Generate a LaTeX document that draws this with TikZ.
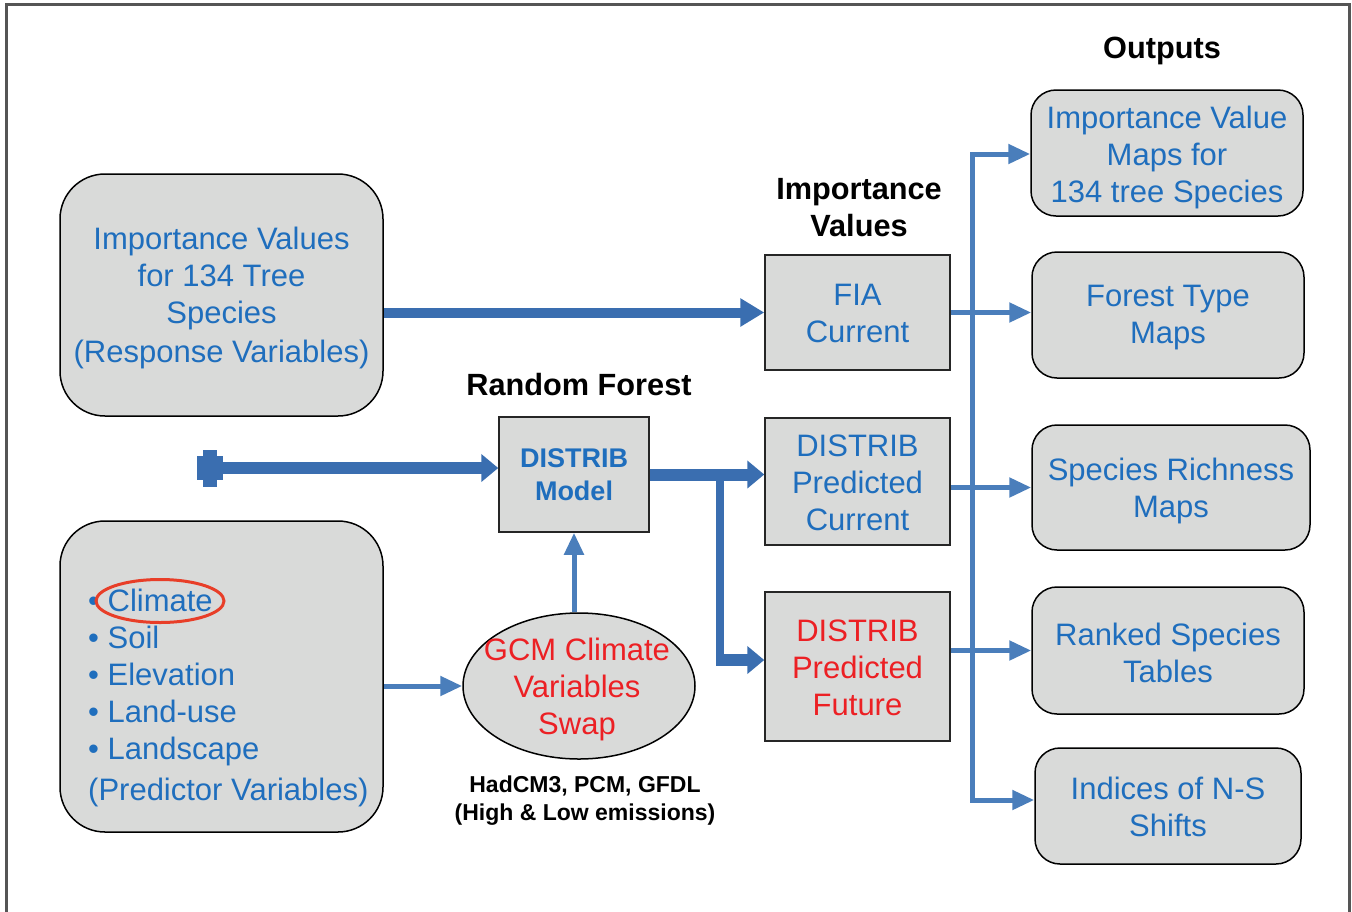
\documentclass[tikz,border=0pt]{standalone}
\usepackage{fontspec}
\setmainfont{Liberation Sans}
\usetikzlibrary{arrows.meta,shapes.geometric}
\definecolor{boxfill}{RGB}{217,218,217}
\definecolor{txtblue}{RGB}{31,110,189}
\definecolor{arrblue}{RGB}{74,126,187}
\definecolor{thkblue}{RGB}{58,110,176}
\definecolor{txtred}{RGB}{236,32,36}
\definecolor{ringred}{RGB}{232,62,40}
\definecolor{framegray}{RGB}{85,85,85}
\tikzset{
  bigfont/.style={font=\fontsize{31}{37}\selectfont},
  roundbox/.style={draw=black,line width=1.5pt,fill=boxfill,rounded corners=45pt,inner sep=0pt,align=center,bigfont,text=txtblue},
  outbox/.style={draw=black,line width=1.5pt,fill=boxfill,rounded corners=25pt,inner sep=0pt,align=center,bigfont,text=txtblue},
  sqbox/.style={draw=black!85,line width=1.5pt,fill=boxfill,inner sep=0pt,align=center,bigfont,text=txtblue},
  title/.style={font=\fontsize{30.7}{37}\selectfont\bfseries,align=center,text=black},
  thinarrow/.style={draw=arrblue,line width=5pt,-{Triangle[width=19pt,length=22pt]}},
  thickarrow/.style={draw=thkblue,line width=12pt,-{Triangle[width=27pt,length=17pt]}},
}
\begin{document}
\begin{tikzpicture}[x=1pt,y=-1pt]
\useasboundingbox (0,0) rectangle (1352,911);
% frame
\draw[framegray,line width=3pt] (6,915) -- (6,4) -- (1349,4) -- (1349,915);

% left boxes
\node[roundbox,minimum width=323pt,minimum height=242pt] (A) at (221.5,295) {};
\node[bigfont,text=txtblue,align=center,inner sep=0pt] (Atext) at (221.5,298)
  {Importance Values\\for 134 Tree\\Species\\[2pt](Response Variables)};
\node[roundbox,minimum width=323pt,minimum height=311pt] (B) at (221.5,676.5) {};
\node[bigfont,text=txtblue,align=left,anchor=west,inner sep=0pt] (predtext) at (88,698)
  {• Climate\\• Soil\\• Elevation\\• Land-use\\• Landscape\\[4pt](Predictor Variables)};
\node[ellipse,draw=ringred,line width=3pt,minimum width=128pt,minimum height=43pt,inner sep=0pt] (ring) at (160,601) {};

% middle
\node[title] (rftitle) at (579,385) {Random Forest};
\node[sqbox,minimum width=150pt,minimum height=115pt,font=\fontsize{27}{33}\selectfont\bfseries] (model) at (574,474.5) {DISTRIB\\Model};
\node[ellipse,draw=black,line width=1.5pt,fill=boxfill,minimum width=232pt,minimum height=146pt,inner sep=0pt] (gcm) at (579,686) {};
\node[bigfont,text=txtred,align=center,inner sep=0pt] (gcmtext) at (577,689)
  {GCM Climate\\Variables\\Swap};
\node[font=\fontsize{23}{28}\selectfont\bfseries,align=center] (gcmnote) at (585,801)
  {HadCM3, PCM, GFDL\\(High \& Low emissions)};

% importance values column
\node[title] (ivtitle) at (859,208) {Importance\\Values};
\node[sqbox,minimum width=185pt,minimum height=115pt] (fia) at (857.5,312.5) {};
\node[bigfont,text=txtblue,align=center,inner sep=0pt] (fiatext) at (857.5,313) {FIA\\Current};
\node[sqbox,minimum width=185pt,minimum height=127pt] (pcur) at (857.5,481.5) {};
\node[bigfont,text=txtblue,align=center,inner sep=0pt] (pcurtext) at (857.5,482.5) {DISTRIB\\Predicted\\Current};
\node[sqbox,minimum width=185pt,minimum height=149pt] (pfut) at (857.5,666.5) {};
\node[bigfont,text=txtred,align=center,inner sep=0pt] (pfuttext) at (857.5,667.5) {DISTRIB\\Predicted\\Future};

% outputs
\node[title] (outtitle) at (1162,51) {Outputs};
\node[outbox,minimum width=272pt,minimum height=126pt] (o1) at (1167,153) {};
\node[bigfont,text=txtblue,align=center,inner sep=0pt] (o1text) at (1167,157) {Importance Value\\Maps for\\134 tree Species};
\node[outbox,minimum width=272pt,minimum height=126pt] (o2) at (1168,315) {};
\node[bigfont,text=txtblue,align=center,inner sep=0pt] (o2text) at (1168,318) {Forest Type\\Maps};
\node[outbox,minimum width=278pt,minimum height=125pt] (o3) at (1171,487.5) {};
\node[bigfont,text=txtblue,align=center,inner sep=0pt] (o3text) at (1171,491) {Species Richness\\Maps};
\node[outbox,minimum width=272pt,minimum height=127pt] (o4) at (1168,650.5) {};
\node[bigfont,text=txtblue,align=center,inner sep=0pt] (o4text) at (1168,653) {Ranked Species\\Tables};
\node[outbox,minimum width=266pt,minimum height=116pt] (o5) at (1168,806) {};
\node[bigfont,text=txtblue,align=center,inner sep=0pt] (o5text) at (1168,807) {Indices of N-S\\Shifts};

% thick arrows
\fill[thkblue] (197,456) rectangle (223,480);
\fill[thkblue] (203,450) rectangle (217,487);
\coordinate (capR) at (222,468);
\draw[thickarrow] (capR) -- (model.west |- capR);
\draw[thickarrow,line width=10pt,-{Triangle[width=27pt,length=24pt]}] (A.east |- fia.west) -- (fia.west);
\draw[thickarrow] (model.east) -- (pcur.west |- model.east);
\coordinate (br1) at (720,474.5);
\coordinate (br2) at (720,660);
\draw[draw=thkblue,line width=8pt] (br1) -- ([yshift=-4pt]br2);
\draw[thickarrow] ([xshift=-4pt]br2) -- (pfut.west |- br2);

% thin arrows
\draw[thinarrow] (model.south |- gcm.north) -- (model.south);
\draw[thinarrow] (B.east |- gcm.west) -- (gcm.west);

% bus
\coordinate (bustop) at (972.5,154);
\coordinate (busbot) at (972.5,800);
\draw[arrblue,line width=5pt] (bustop) -- (busbot);
\draw[thinarrow] ([xshift=-2.5pt]bustop) -- (o1.west |- bustop);
\draw[thinarrow] (fia.east) -- (o2.west |- fia.east);
\draw[thinarrow] (pcur.east |- o3.west) -- (o3.west);
\draw[thinarrow] (pfut.east |- o4.west) -- (o4.west);
\draw[thinarrow] ([xshift=-2.5pt]busbot) -- (o5.west |- busbot);
\end{tikzpicture}
\end{document}
